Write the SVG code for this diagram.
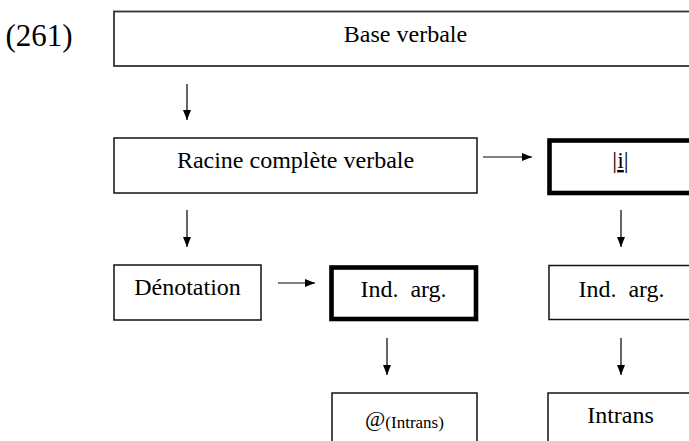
<svg xmlns="http://www.w3.org/2000/svg" width="689" height="441" viewBox="0 0 689 441">
<style>
text{font-family:"Liberation Serif","Times New Roman",serif;font-size:24px;fill:#000;text-anchor:middle}
.box{fill:#fff;stroke:#111;stroke-width:1.5}
.bold{fill:#fff;stroke:#000;stroke-width:4.6}
.arr{stroke:#000;stroke-width:1.2;fill:none;marker-end:url(#ah)}
</style>
<defs>
<marker id="ah" markerUnits="userSpaceOnUse" markerWidth="11" markerHeight="9" refX="10" refY="4.5" orient="auto">
<path d="M0,0.5 L10,4.5 L0,8.5 z" fill="#000"/>
</marker>
</defs>
<rect width="689" height="441" fill="#fff"/>
<text x="39" y="46" style="font-size:31px">(261)</text>
<g id="base">
<rect class="box" x="114" y="11.5" width="620" height="54.5" style="stroke:#333;stroke-width:1.8"/>
<text x="405.5" y="41.5">Base verbale</text>
</g>
<g id="racine">
<rect class="box" x="114" y="138" width="363" height="55"/>
<text x="295.5" y="168">Racine complète verbale</text>
</g>
<g id="i">
<rect class="bold" x="549.5" y="140.5" width="200" height="52.5"/>
<text x="620.5" y="168">|<tspan text-decoration="underline">i</tspan>|</text>
</g>
<g id="denotation">
<rect class="box" x="114" y="265" width="147" height="55"/>
<text x="187.5" y="295">Dénotation</text>
</g>
<g id="indarg1">
<rect class="bold" x="331.5" y="267.5" width="144.5" height="51.5"/>
<text x="403.5" y="297">Ind.&#160; arg.</text>
</g>
<g id="indarg2">
<rect class="box" x="549" y="265.5" width="200" height="54"/>
<text x="621.5" y="297">Ind.&#160; arg.</text>
</g>
<g id="at">
<rect class="box" x="332" y="393" width="145" height="70"/>
<text x="404.5" y="426"><tspan style="font-size:22px">@</tspan><tspan dy="2" style="font-size:17px">(Intrans)</tspan></text>
</g>
<g id="intrans">
<rect class="box" x="548" y="393" width="200" height="70"/>
<text x="620.5" y="423">Intrans</text>
</g>
<g id="connectors">
<line class="arr" x1="187" y1="84" x2="187" y2="120"/>
<line class="arr" x1="483" y1="157" x2="532" y2="157"/>
<line class="arr" x1="187" y1="210" x2="187" y2="247"/>
<line class="arr" x1="621" y1="210" x2="621" y2="247"/>
<line class="arr" x1="278" y1="283" x2="315" y2="283"/>
<line class="arr" x1="387" y1="338" x2="387" y2="375"/>
<line class="arr" x1="621" y1="338" x2="621" y2="375"/>
</g>
</svg>
